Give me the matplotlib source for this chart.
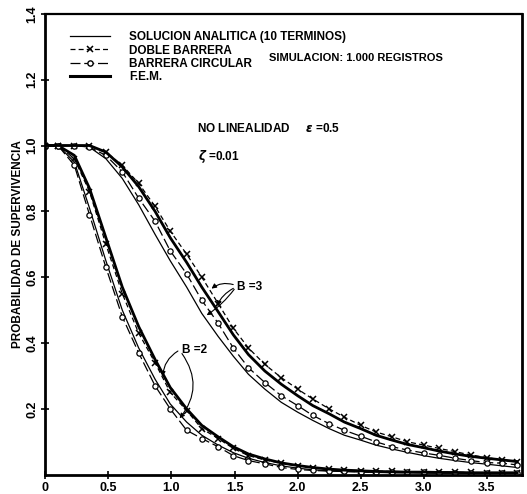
import numpy as np
import matplotlib
matplotlib.use("Agg")
import matplotlib.pyplot as plt
from matplotlib.lines import Line2D

plt.rcParams['font.family'] = ['Liberation Sans', 'DejaVu Sans']
plt.rcParams['font.weight'] = 'bold'

# tiempo adimensional (posiciones de los marcadores)
t = [0.0, 0.10, 0.23, 0.35, 0.48, 0.61, 0.74, 0.87, 0.99, 1.12, 1.24, 1.37, 1.49, 1.61, 1.74, 1.87,
     2.00, 2.12, 2.25, 2.37, 2.50, 2.62, 2.75, 2.87, 3.00, 3.12, 3.25, 3.37, 3.50, 3.62, 3.74]

# B = 2
b2_analitica = [1.0, 1.0, 0.95, 0.81, 0.65, 0.50, 0.385, 0.29, 0.215, 0.16, 0.12, 0.09, 0.067, 0.05, 0.037, 0.027,
                0.02, 0.015, 0.012, 0.01, 0.008, 0.007, 0.006, 0.006, 0.005, 0.005, 0.005, 0.005, 0.005, 0.005, 0.005]
b2_doble = [1.0, 1.0, 0.96, 0.86, 0.70, 0.55, 0.43, 0.34, 0.25, 0.195, 0.14, 0.11, 0.08, 0.058, 0.045, 0.035,
            0.027, 0.021, 0.017, 0.014, 0.012, 0.011, 0.01, 0.009, 0.008, 0.008, 0.007, 0.007, 0.006, 0.006, 0.006]
b2_circular = [1.0, 1.0, 0.94, 0.79, 0.63, 0.48, 0.37, 0.27, 0.20, 0.135, 0.11, 0.085, 0.058, 0.043, 0.033, 0.022,
               0.016, 0.013, 0.011, 0.01, 0.009, 0.008, 0.008, 0.007, 0.007, 0.006, 0.006, 0.006, 0.005, 0.005, 0.005]
b2_fem = [1.0, 1.0, 0.97, 0.87, 0.72, 0.57, 0.45, 0.35, 0.265, 0.20, 0.15, 0.115, 0.085, 0.063, 0.048, 0.036,
          0.028, 0.022, 0.017, 0.014, 0.012, 0.01, 0.009, 0.008, 0.008, 0.007, 0.007, 0.006, 0.006, 0.006, 0.006]

# B = 3
b3_analitica = [1.0, 1.0, 1.0, 0.995, 0.96, 0.90, 0.82, 0.73, 0.65, 0.57, 0.49, 0.42, 0.36, 0.305, 0.26, 0.22,
                0.19, 0.165, 0.14, 0.12, 0.105, 0.09, 0.078, 0.068, 0.058, 0.05, 0.043, 0.037, 0.032, 0.027, 0.022]
b3_doble = [1.0, 1.0, 1.0, 1.0, 0.98, 0.94, 0.885, 0.815, 0.74, 0.67, 0.60, 0.52, 0.445, 0.385, 0.335, 0.295,
            0.26, 0.23, 0.20, 0.175, 0.15, 0.13, 0.115, 0.10, 0.09, 0.08, 0.07, 0.06, 0.052, 0.045, 0.038]
b3_circular = [1.0, 1.0, 1.0, 0.995, 0.97, 0.92, 0.84, 0.77, 0.68, 0.61, 0.53, 0.46, 0.385, 0.325, 0.28, 0.24,
               0.21, 0.18, 0.155, 0.135, 0.117, 0.10, 0.085, 0.075, 0.066, 0.059, 0.05, 0.043, 0.037, 0.035, 0.03]
b3_fem = [1.0, 1.0, 1.0, 1.0, 0.98, 0.935, 0.875, 0.80, 0.72, 0.645, 0.57, 0.495, 0.425, 0.365, 0.315, 0.275,
          0.24, 0.21, 0.185, 0.16, 0.14, 0.12, 0.105, 0.092, 0.082, 0.072, 0.063, 0.056, 0.05, 0.045, 0.04]

xticks = [0, 0.5, 1.0, 1.5, 2.0, 2.5, 3.0, 3.5]
xticklabels = ["0", "0.5", "1.0", "1.5", "2.0", "2.5", "3.0", "3.5"]
yticks = [0.2, 0.4, 0.6, 0.8, 1.0, 1.2, 1.4]
yticklabels = ["0.2", "0.4", "0.6", "0.8", "1.0", "1.2", "1.4"]

fig = plt.figure(figsize=(5.27, 4.94), dpi=100)
ax = fig.add_axes([0.086, 0.039, 0.905, 0.933])

dash_c = (0, (8, 3))
dash_d = (0, (4, 2.5))
for an, do, ci, fe in [(b2_analitica, b2_doble, b2_circular, b2_fem),
                       (b3_analitica, b3_doble, b3_circular, b3_fem)]:
    ax.plot(t, an, color="black", lw=0.9)
    ax.plot(t, do, color="black", lw=0.9, ls=dash_d, marker="x", ms=4, mew=1.1)
    ax.plot(t, ci, color="black", lw=0.9, ls=dash_c, marker="o", ms=3.8, mfc="white", mew=0.9)
    ax.plot(t, fe, color="black", lw=2.0)

handles = [Line2D([], [], color="black", lw=0.9),
           Line2D([], [], color="black", lw=0.9, ls=dash_d, marker="x", ms=4, mew=1.1, markevery=[0, -1]),
           Line2D([], [], color="black", lw=0.9, ls=dash_c, marker="o", ms=3.8, mfc="white", markevery=[0, -1]),
           Line2D([], [], color="black", lw=2.2)]
labels = ["SOLUCION ANALITICA (10 TERMINOS)", "DOBLE BARRERA", "BARRERA CIRCULAR", "F.E.M."]
leg = ax.legend(handles, labels, loc="upper left", bbox_to_anchor=(0.03, 0.985), frameon=False,
                handlelength=3.4, handletextpad=1.6, labelspacing=0.1,
                prop={"weight": "bold", "size": 8.5})

ax.text(0.47, 0.905, "SIMULACION: 1.000 REGISTROS", transform=ax.transAxes, fontsize=8,
        fontweight="bold", va="center")
ax.text(0.318, 0.752, "NO LINEALIDAD     $\\epsilon$ =0.5", transform=ax.transAxes, fontsize=8.5,
        fontweight="bold", va="center")
ax.text(0.32, 0.69, "$\\zeta$ =0.01", transform=ax.transAxes, fontsize=8.5,
        fontweight="bold", va="center")

# etiquetas B
arr = dict(arrowstyle="-|>", color="black", lw=0.8, mutation_scale=7)
ax.text(1.52, 0.57, "B =3", fontsize=8.5, fontweight="bold", va="center")
ax.annotate("", xy=(1.30, 0.56), xytext=(1.51, 0.575), arrowprops=dict(connectionstyle="arc3,rad=0.3", **arr))
ax.annotate("", xy=(1.35, 0.505), xytext=(1.51, 0.57), arrowprops=dict(connectionstyle="arc3,rad=0.2", **arr))
ax.annotate("", xy=(1.26, 0.48), xytext=(1.51, 0.57), arrowprops=dict(connectionstyle="arc3,rad=-0.1", **arr))
ax.text(1.08, 0.38, "B =2", fontsize=8.5, fontweight="bold", va="center")
ax.annotate("", xy=(0.93, 0.29), xytext=(1.07, 0.38), arrowprops=dict(connectionstyle="arc3,rad=0.3", **arr))
ax.annotate("", xy=(1.05, 0.165), xytext=(1.07, 0.375), arrowprops=dict(connectionstyle="arc3,rad=-0.4", **arr))

ax.set_xlim(0, 3.78)
ax.set_ylim(0, 1.4)
ax.set_xticks(xticks)
ax.set_xticklabels(xticklabels, fontsize=9, fontweight="bold")
ax.set_yticks(yticks)
ax.set_yticklabels(yticklabels, fontsize=9, fontweight="bold", rotation=90, va="center")
ax.tick_params(direction="inout", length=6, width=1.2, pad=2)
ax.set_ylabel("PROBABILIDAD DE SUPERVIVENCIA", fontsize=8.5, fontweight="bold", labelpad=2)
for s in ax.spines.values():
    s.set_linewidth(2.0)
ax.spines["top"].set_linewidth(1.6)

fig.savefig("out.png", dpi=100)
